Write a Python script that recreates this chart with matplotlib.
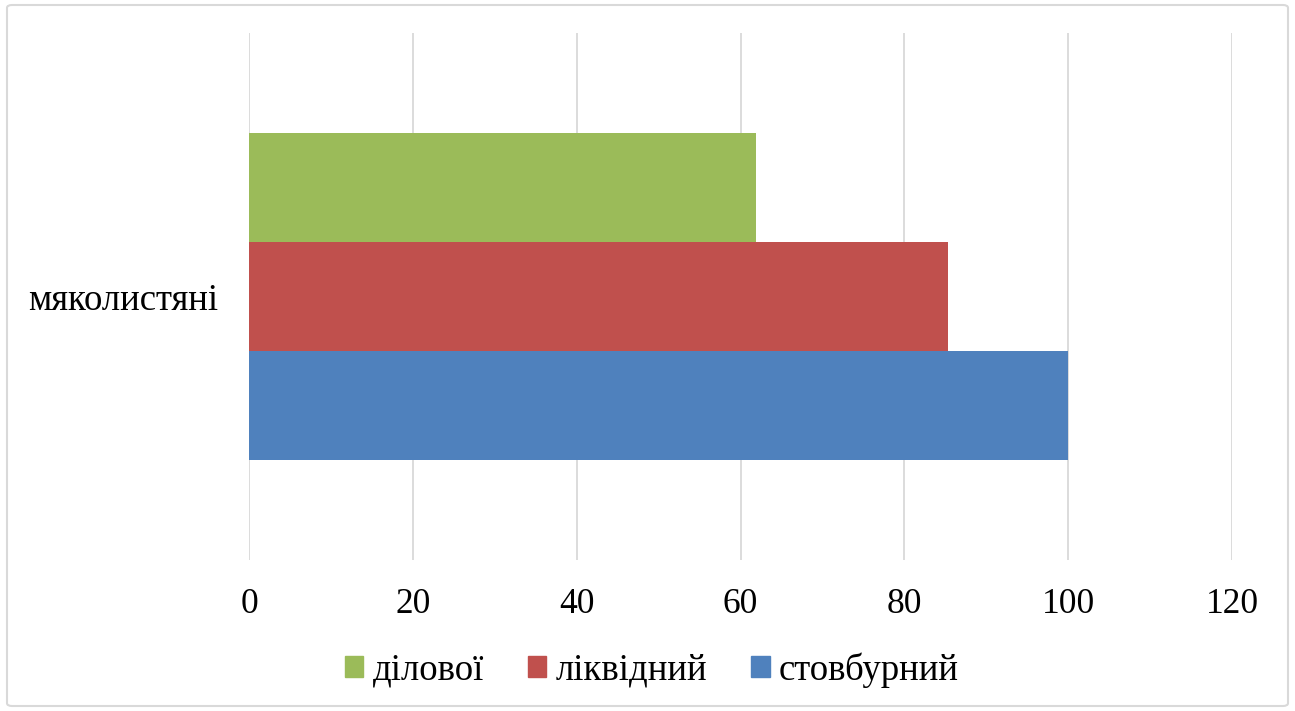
import matplotlib.pyplot as plt
from matplotlib.patches import FancyBboxPatch, Patch

# породи / показники
category = ['мяколистяні']
series_names = ['стовбурний', 'ліквідний', 'ділової']
series_values = [100, 85.3, 61.9]
colors = ['#4F81BD', '#C0504D', '#9BBB59']
xticks = [0, 20, 40, 60, 80, 100, 120]

plt.rcParams['font.family'] = ['Liberation Serif', 'DejaVu Serif']

fig = plt.figure(figsize=(12.95, 7.11), dpi=100)
ax = fig.add_axes([249 / 1295, 1 - 560 / 711, (1232 - 249) / 1295, (560 - 33) / 711])

# рамка навколо діаграми
fig.patches.append(FancyBboxPatch((7 / 1295, 5 / 711), 1281 / 1295, 701 / 711,
                                  boxstyle='round,pad=0,rounding_size=0.004',
                                  transform=fig.transFigure, fill=False,
                                  edgecolor='#D9D9D9', linewidth=1.5))

h = 0.207
for i, (name, val, c) in enumerate(zip(series_names, series_values, colors)):
    ax.barh(-h + i * h, val, height=h, color=c, label=name)

ax.set_xlim(0, 120)
ax.set_ylim(-0.5, 0.5)
ax.set_xticks(xticks)
ax.set_yticks([0])
ax.set_yticklabels(category, fontsize=26.5)
ax.tick_params(axis='x', labelsize=25.5, length=0, pad=20)
ax.tick_params(axis='y', length=0, pad=22)
ax.grid(axis='x', color='#D9D9D9', linewidth=1.3)
ax.set_axisbelow(True)
for s in ax.spines.values():
    s.set_visible(False)

handles = [Patch(color=colors[i], label=series_names[i]) for i in [2, 1, 0]]
fig.legend(handles=handles, loc='center', bbox_to_anchor=(652 / 1295, 1 - 670 / 711),
           ncol=3, frameon=False, fontsize=26.5, handlelength=0.5, handleheight=0.5,
           handletextpad=0.25, columnspacing=1.2)

fig.savefig('out.png', dpi=100)
